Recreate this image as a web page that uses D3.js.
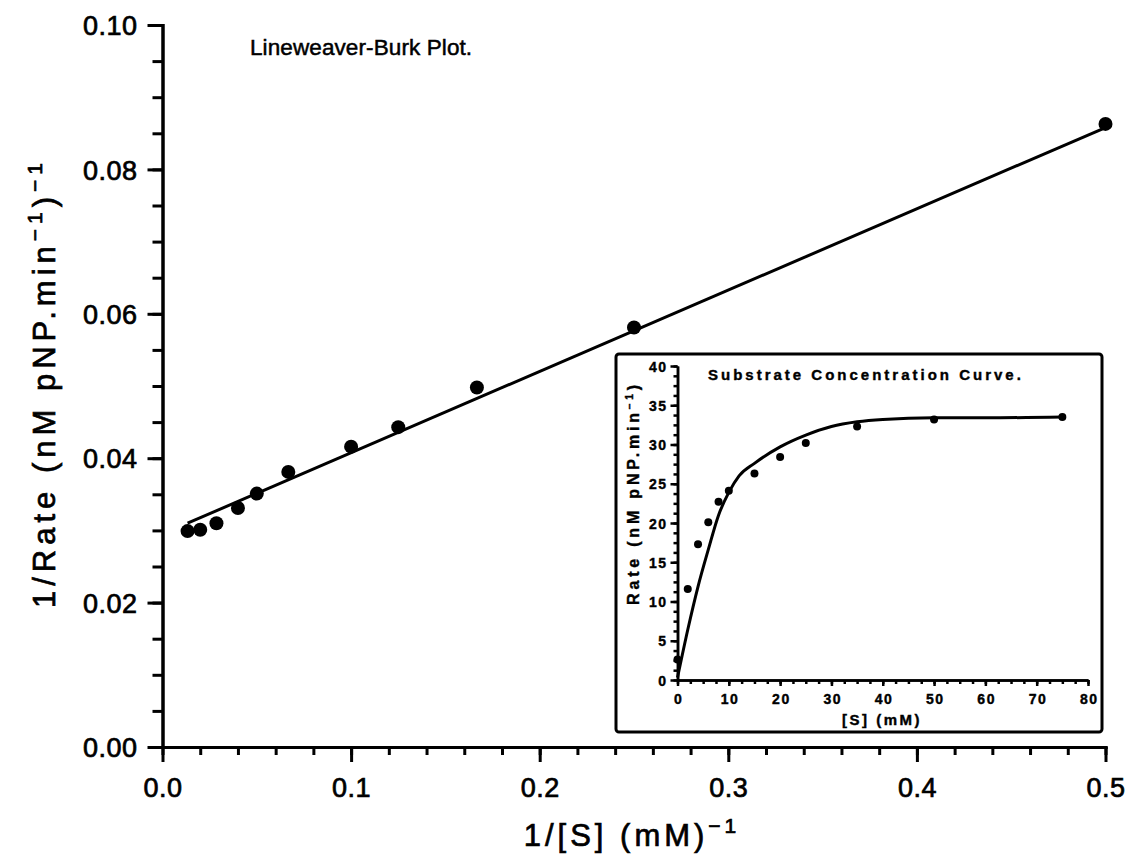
<!DOCTYPE html>
<html><head><meta charset="utf-8">
<script src="https://cdn.jsdelivr.net/npm/d3@7"></script>
<style>
body{margin:0;background:#fff;}
svg text{font-family:"Liberation Sans",Arial,sans-serif;fill:#000;}
</style></head>
<body><svg id="c" width="1138" height="857"></svg>
<script>
// ---- main Lineweaver-Burk data ----
const invS    = [0.0133, 0.0200, 0.0286, 0.0400, 0.0500, 0.0667, 0.1000, 0.1250, 0.1667, 0.2500, 0.5000];
const invRate = [0.0299, 0.0301, 0.0310, 0.0331, 0.0351, 0.0381, 0.0416, 0.0443, 0.0498, 0.0581, 0.0863];
const fitX = [0.0133, 0.5000];
const fitY = [0.0310, 0.0858];
const mainXTicks = [0.0, 0.1, 0.2, 0.3, 0.4, 0.5];
const mainYTicks = [0.00, 0.02, 0.04, 0.06, 0.08, 0.10];

// ---- inset substrate concentration data ----
const conc = [0, 2, 4, 6, 8, 10, 15, 20, 25, 35, 50, 75];
const rate = [2.6, 11.6, 17.3, 20.1, 22.7, 24.1, 26.3, 28.4, 30.2, 32.3, 33.2, 33.5];
const curveS = [0, 2, 4, 6, 8, 10, 12, 15, 20, 25, 30, 35, 40, 50, 60, 75];
const curveR = [0.3, 6.4, 11.9, 16.6, 21.0, 23.9, 26.0, 27.6, 29.7, 31.2, 32.3, 32.9, 33.2, 33.4, 33.4, 33.5];
const insetXTicks = [0, 10, 20, 30, 40, 50, 60, 70, 80];
const insetYTicks = [0, 5, 10, 15, 20, 25, 30, 35, 40];

const svg = d3.select("#c");

// main scales
const x = d3.scaleLinear().domain([0, 0.5]).range([162.5, 1105.5]);
const y = d3.scaleLinear().domain([0, 0.1]).range([747, 25]);

function styleAxis(g, w) {
  g.select(".domain").attr("stroke", "#000").attr("stroke-width", w);
  g.selectAll(".tick line").attr("stroke", "#000").attr("stroke-width", w);
}
function thick(sel, w) { sel.attr("stroke", "#000").attr("stroke-width", w).attr("paint-order", "stroke"); }

// minor x ticks
const gxm = svg.append("g").attr("transform", `translate(0,${y(0)})`)
  .call(d3.axisBottom(x).tickValues(d3.range(0, 0.5001, 0.02)).tickSize(8).tickSizeOuter(0).tickFormat(""));
styleAxis(gxm, 3);
const gx = svg.append("g").attr("transform", `translate(0,${y(0)})`)
  .call(d3.axisBottom(x).tickValues(mainXTicks).tickSize(15).tickSizeOuter(0).tickPadding(9).tickFormat(d3.format(".1f")));
styleAxis(gx, 3);
gx.selectAll("text").attr("font-size", 27).attr("letter-spacing", 0.5).attr("dy", "0.95em").call(thick, 0.7);

const gym = svg.append("g").attr("transform", `translate(${x(0)},0)`)
  .call(d3.axisLeft(y).tickValues(d3.range(0, 0.10001, 0.005)).tickSize(10).tickSizeOuter(0).tickFormat(""));
styleAxis(gym, 3);
const gy = svg.append("g").attr("transform", `translate(${x(0)},0)`)
  .call(d3.axisLeft(y).tickValues(mainYTicks).tickSize(15).tickSizeOuter(0).tickPadding(10).tickFormat(d3.format(".2f")));
styleAxis(gy, 3);
gy.selectAll("text").attr("font-size", 27).attr("letter-spacing", 0.5).attr("dy", "0.36em").call(thick, 0.7);
svg.selectAll(".domain").attr("stroke-linecap", "square");

// fit line
svg.append("path")
  .datum(fitX.map((v, i) => [v, fitY[i]]))
  .attr("d", d3.line().x(d => x(d[0])).y(d => y(d[1])))
  .attr("fill", "none").attr("stroke", "#000").attr("stroke-width", 3);

// points
svg.append("g").selectAll("circle").data(invS).join("circle")
  .attr("cx", d => x(d)).attr("cy", (d, i) => y(invRate[i])).attr("r", 7).attr("fill", "#000");

// title
svg.append("text").attr("x", 250).attr("y", 55).attr("font-size", 22.5).attr("letter-spacing", 0.1)
  .text("Lineweaver-Burk Plot.").call(thick, 0.5);

// x title
const xt = svg.append("text").attr("x", 632).attr("y", 846).attr("text-anchor", "middle")
  .attr("font-size", 31).attr("letter-spacing", 4).call(thick, 0.7);
xt.append("tspan").text("1/[S] (mM)");
xt.append("tspan").attr("dy", -13).attr("font-size", 21).text("−1");

// y title
const yt = svg.append("text").attr("transform", "translate(55,383) rotate(-90)").attr("text-anchor", "middle")
  .attr("font-size", 31).attr("letter-spacing", 5).call(thick, 0.7);
yt.append("tspan").text("1/Rate (nM pNP.min");
yt.append("tspan").attr("dy", -13).attr("font-size", 21).text("−1");
yt.append("tspan").attr("dy", 13).text(")");
yt.append("tspan").attr("dy", -13).attr("font-size", 21).text("−1");

// ---- inset ----
const ins = svg.append("g");
ins.append("rect").attr("x", 616).attr("y", 354).attr("width", 486).attr("height", 378)
  .attr("rx", 3).attr("fill", "#fff").attr("stroke", "#000").attr("stroke-width", 3);

const ix = d3.scaleLinear().domain([0, 80]).range([677.5, 1088]);
const iy = d3.scaleLinear().domain([0, 40]).range([680, 366]);

const ixm = ins.append("g").attr("transform", `translate(0,${iy(0)})`)
  .call(d3.axisBottom(ix).tickValues(d3.range(0, 80.01, 2.5)).tickSize(4).tickSizeOuter(0).tickFormat(""));
styleAxis(ixm, 2.5);
const ixa = ins.append("g").attr("transform", `translate(0,${iy(0)})`)
  .call(d3.axisBottom(ix).tickValues(insetXTicks).tickSize(6).tickSizeOuter(0).tickPadding(5).tickFormat(d3.format("d")));
styleAxis(ixa, 2.5);
ixa.selectAll("text").attr("font-size", 14).attr("font-weight", "bold").attr("letter-spacing", 1.5)
  .attr("dx", 0.75).attr("dy", "0.9em").call(thick, 0.4);

const iym = ins.append("g").attr("transform", `translate(${ix(0)},0)`)
  .call(d3.axisLeft(iy).tickValues(d3.range(0, 40.01, 1.25)).tickSize(4).tickSizeOuter(0).tickFormat(""));
styleAxis(iym, 2.5);
const iya = ins.append("g").attr("transform", `translate(${ix(0)},0)`)
  .call(d3.axisLeft(iy).tickValues(insetYTicks).tickSize(7).tickSizeOuter(0).tickPadding(3).tickFormat(d3.format("d")));
styleAxis(iya, 2.5);
iya.selectAll("text").attr("font-size", 14).attr("font-weight", "bold").attr("letter-spacing", 1.5)
  .attr("dy", "0.36em").call(thick, 0.4);

ins.append("path")
  .datum(curveS.map((v, i) => [v, curveR[i]]))
  .attr("d", d3.line().curve(d3.curveMonotoneX).x(d => ix(d[0])).y(d => iy(d[1])))
  .attr("fill", "none").attr("stroke", "#000").attr("stroke-width", 3);

ins.append("g").selectAll("circle").data(conc).join("circle")
  .attr("cx", d => ix(d)).attr("cy", (d, i) => iy(rate[i])).attr("r", 4).attr("fill", "#000");

ins.append("text").attr("x", 708).attr("y", 380).attr("font-size", 15).attr("font-weight", "bold")
  .attr("letter-spacing", 3).text("Substrate Concentration Curve.").call(thick, 0.4);

ins.append("text").attr("x", 882).attr("y", 725).attr("text-anchor", "middle").attr("font-size", 15)
  .attr("font-weight", "bold").attr("letter-spacing", 2.5).text("[S] (mM)").call(thick, 0.4);

const iyt = ins.append("text").attr("transform", "translate(639,493) rotate(-90)").attr("text-anchor", "middle")
  .attr("font-size", 16).attr("font-weight", "bold").attr("letter-spacing", 3.8).call(thick, 0.4);
iyt.append("tspan").text("Rate (nM pNP.min");
iyt.append("tspan").attr("dy", -6).attr("font-size", 10).text("−1");
iyt.append("tspan").attr("dy", 6).text(")");
</script></body></html>
